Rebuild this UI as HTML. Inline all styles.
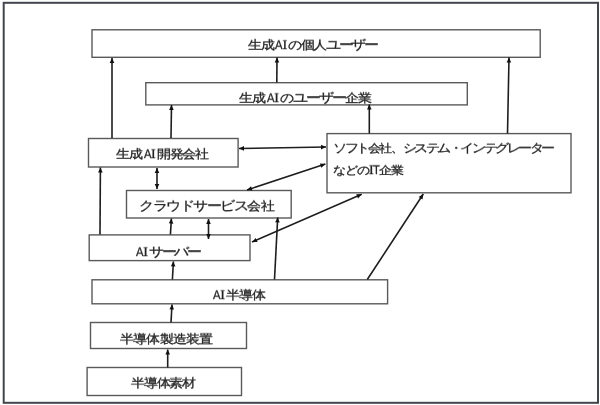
<!DOCTYPE html>
<html><head><meta charset="utf-8">
<style>
html,body{margin:0;padding:0;background:#fff;width:600px;height:405px;overflow:hidden}
body{position:relative;font-family:"Liberation Sans",sans-serif;color:#222}
svg{position:absolute;left:0;top:0}
.t{position:absolute;will-change:transform;transform:scaleY(0.86);transform-origin:0 12px;white-space:nowrap;font-size:13px;line-height:14px;-webkit-text-stroke:0.32px #222}
.a{display:inline-block;transform:scaleX(0.8);transform-origin:0 0;font-size:14px;margin-left:1.7px;margin-right:-1.8px;letter-spacing:0px;-webkit-text-stroke:0.3px #222}
.i{font-family:"Liberation Serif",serif;font-size:14px;letter-spacing:0.9px;-webkit-text-stroke:0.3px #222}
</style></head><body>
<svg width="600" height="405" viewBox="0 0 600 405">
<rect x="3.7" y="2.8" width="594.3" height="400" fill="none" stroke="#42464c" stroke-width="2"/>
<g fill="#fff" stroke="#5a5a5a" stroke-width="1.4"><rect x="92" y="29.8" width="448.20000000000005" height="27.499999999999996"/><rect x="145.8" y="82.7" width="321.5" height="22.200000000000003"/><rect x="88.5" y="138.5" width="149.6" height="28.5"/><rect x="327" y="133.6" width="244" height="59.20000000000002"/><rect x="126.5" y="190.5" width="164.7" height="27.5"/><rect x="89.2" y="234.9" width="160.8" height="25.700000000000017"/><rect x="92" y="279.8" width="295.6" height="24.0"/><rect x="90.5" y="322.5" width="156.0" height="26.0"/><rect x="87.1" y="367.5" width="154.4" height="28.0"/></g>
<g stroke="#1e1e1e" stroke-width="1.6"><line x1="112" y1="138" x2="112" y2="58"/><line x1="171" y1="138" x2="171.5" y2="105"/><line x1="276.8" y1="82.5" x2="277" y2="57.5"/><line x1="369.3" y1="133.5" x2="369.3" y2="104.5"/><line x1="507.5" y1="133.5" x2="509" y2="57.5"/><line x1="239" y1="148.5" x2="326" y2="147"/><line x1="325.4" y1="164" x2="247" y2="190"/><line x1="157" y1="168" x2="157" y2="189"/><line x1="100" y1="234.5" x2="100.4" y2="167.5"/><line x1="170.4" y1="234.5" x2="171.4" y2="218.5"/><line x1="208.5" y1="219" x2="208.5" y2="239"/><line x1="361.7" y1="194.3" x2="252" y2="242"/><line x1="274.5" y1="279.5" x2="277.7" y2="217.5"/><line x1="367.3" y1="279.5" x2="423.3" y2="194"/><line x1="172.4" y1="279.5" x2="173.4" y2="261.5"/><line x1="171" y1="322.5" x2="172" y2="304.5"/><line x1="167.7" y1="367.5" x2="167.7" y2="349.5"/></g>
<g fill="#111"><polygon points="112.00,58.00 114.30,63.00 109.70,63.00"/><polygon points="171.50,105.00 173.72,110.03 169.12,109.96"/><polygon points="277.00,57.50 279.26,62.52 274.66,62.48"/><polygon points="369.30,104.50 371.60,109.50 367.00,109.50"/><polygon points="509.00,57.50 511.20,62.54 506.60,62.45"/><polygon points="326.00,147.00 321.04,149.39 320.96,144.79"/><polygon points="239.00,148.50 243.96,146.11 244.04,150.71"/><polygon points="247.00,190.00 251.02,186.24 252.47,190.61"/><polygon points="325.40,164.00 321.38,167.76 319.93,163.39"/><polygon points="157.00,189.00 154.70,184.00 159.30,184.00"/><polygon points="157.00,168.00 159.30,173.00 154.70,173.00"/><polygon points="100.40,167.50 102.67,172.51 98.07,172.49"/><polygon points="171.40,218.50 173.38,223.63 168.79,223.35"/><polygon points="208.50,239.00 206.20,234.00 210.80,234.00"/><polygon points="208.50,219.00 210.80,224.00 206.20,224.00"/><polygon points="252.00,242.00 255.67,237.90 257.50,242.12"/><polygon points="361.70,194.30 358.03,198.40 356.20,194.18"/><polygon points="277.70,217.50 279.74,222.61 275.15,222.37"/><polygon points="423.30,194.00 422.48,199.44 418.64,196.92"/><polygon points="173.40,261.50 175.42,266.62 170.83,266.36"/><polygon points="172.00,304.50 174.02,309.62 169.43,309.36"/><polygon points="167.70,349.50 170.00,354.50 165.40,354.50"/></g>
</svg>
<div class="t" style="left:248.0px;top:37.3px;letter-spacing:-1.35px;font-size:14px">生成<span class="a">A</span><span class="i">I</span>の個人<span style="font-size:15.00px;letter-spacing:-2.35px">ユーザー</span></div><div class="t" style="left:239.0px;top:90px;letter-spacing:-1px;font-size:14px">生成<span class="a">A</span><span class="i">I</span>の<span style="font-size:15.00px;letter-spacing:-2.00px">ユーザー</span>企業</div><div class="t" style="left:116.0px;top:146px;letter-spacing:-1.1px;font-size:14px">生成<span class="a">A</span><span class="i">I</span>開発会社</div><div class="t" style="left:332.5px;top:140px;letter-spacing:-1.42px;font-size:13px"><span style="font-size:14.00px;letter-spacing:-2.42px">ソフト</span>会社、<span style="font-size:14.00px;letter-spacing:-2.42px">システム・インテグレーター</span></div><div class="t" style="left:332.5px;top:162px;letter-spacing:-1px;font-size:13px">などの<span class="i" style="letter-spacing:0;margin-left:0px">I</span><span class="a" style="margin-left:-1px;letter-spacing:0px">T</span>企業</div><div class="t" style="left:139.0px;top:198px;letter-spacing:-0.5px;font-size:14px"><span style="font-size:15.00px;letter-spacing:-1.50px">クラウドサービス</span>会社</div><div class="t" style="left:134.0px;top:243.5px;letter-spacing:-1.2px;font-size:14px"><span class="a">A</span><span class="i">I</span><span style="font-size:15.00px;letter-spacing:-2.20px">サーバー</span></div><div class="t" style="left:210.5px;top:287px;letter-spacing:-1px;font-size:14px"><span class="a">A</span><span class="i">I</span>半導体</div><div class="t" style="left:119.5px;top:331px;letter-spacing:-0.8px;font-size:14px">半導体製造装置</div><div class="t" style="left:130.5px;top:375px;letter-spacing:-1.2px;font-size:14px">半導体素材</div>
</body></html>
